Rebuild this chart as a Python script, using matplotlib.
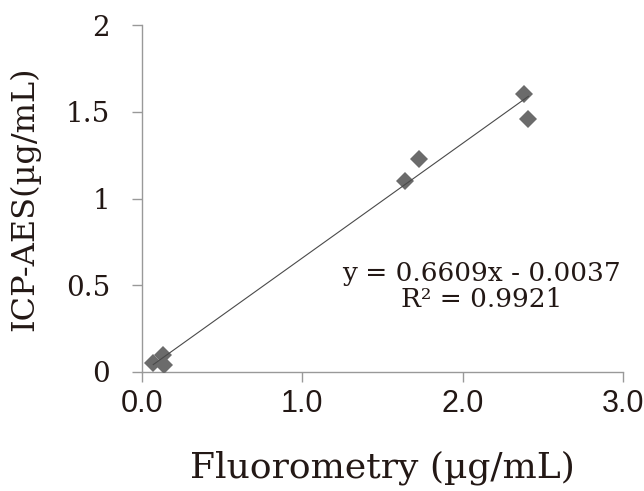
import numpy as np
import matplotlib
matplotlib.use("Agg")
import matplotlib.pyplot as plt

# Data
fluorometry = [0.07, 0.13, 0.14, 1.64, 1.73, 2.38, 2.41]
icp_aes = [0.05, 0.10, 0.04, 1.10, 1.23, 1.60, 1.46]
slope, intercept = 0.6609, -0.0037
r_squared = 0.9921

x_ticks = [0.0, 1.0, 2.0, 3.0]
x_ticklabels = ["0.0", "1.0", "2.0", "3.0"]
y_ticks = [0, 0.5, 1, 1.5, 2]
y_ticklabels = ["0", "0.5", "1", "1.5", "2"]

text_col = "#231815"
axis_col = "#999999"

fig = plt.figure(figsize=(6.44, 4.91), dpi=100)
ax = fig.add_axes([142 / 644, 119 / 491, 481 / 644, 347 / 491])

ax.plot(fluorometry, icp_aes, linestyle="none", marker="D", markersize=9.5,
        color="#6b6b6b", markeredgewidth=0, zorder=3)

# linear trendline over the data range
xs = np.array([min(fluorometry), max(fluorometry)])
ax.plot(xs, slope * xs + intercept, color="#4a4a4a", lw=0.8, zorder=4)

ax.set_xlim(0, 3)
ax.set_ylim(0, 2)
ax.set_xticks(x_ticks)
ax.set_xticklabels(x_ticklabels, family="Liberation Sans", fontsize=22, color=text_col)
ax.set_yticks(y_ticks)
ax.set_yticklabels(y_ticklabels, family="DejaVu Serif", fontsize=20, color=text_col)

for s in ["top", "right"]:
    ax.spines[s].set_visible(False)
for s in ["left", "bottom"]:
    ax.spines[s].set_color(axis_col)
    ax.spines[s].set_linewidth(1.0)

ax.tick_params(axis="x", direction="out", length=7, width=1, color=axis_col, pad=5)
ax.tick_params(axis="y", direction="out", length=7, width=1, color=axis_col, pad=16)

ax.set_xlabel("Fluorometry (µg/mL)", family="DejaVu Serif", fontsize=26, color=text_col)
ax.xaxis.set_label_coords(0.5, -0.225)
ax.set_ylabel("ICP-AES(µg/mL)", family="DejaVu Serif", fontsize=23, color=text_col)
ax.yaxis.set_label_coords(-0.212, 0.5)

ax.text(2.12, 0.565, f"y = {slope:.4f}x - {abs(intercept):.4f}", family="DejaVu Serif",
        fontsize=19, color=text_col, ha="center", va="center")
ax.text(2.12, 0.42, f"R² = {r_squared:.4f}", family="DejaVu Serif",
        fontsize=19, color=text_col, ha="center", va="center")

fig.savefig("out.png", dpi=100)
